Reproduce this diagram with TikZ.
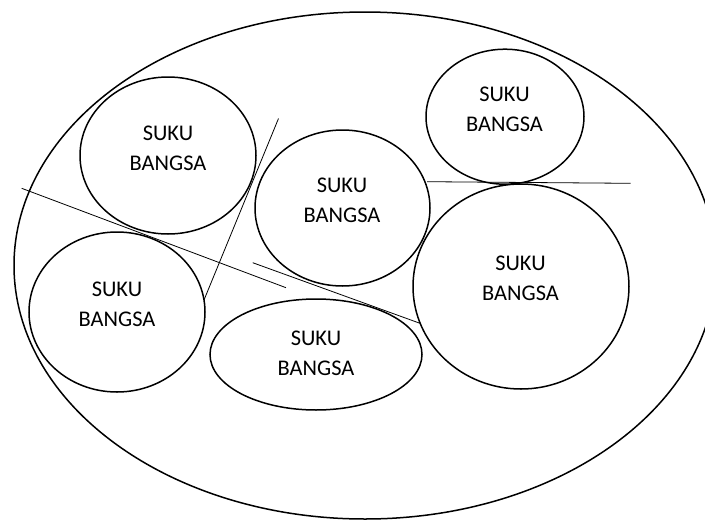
\documentclass[tikz,border=0pt]{standalone}
\usepackage{fontspec}
\setmainfont{Carlito}
\usetikzlibrary{shapes.geometric,positioning}
\tikzset{
  suku/.style={ellipse, draw=black, line width=1.5pt, inner sep=0pt},
  garis/.style={draw=black, line width=0.8pt},
  teks/.style={align=center, font=\fontsize{22.4}{30}\selectfont}
}

\begin{document}
\begin{tikzpicture}[x=1pt,y=-1pt]
  \useasboundingbox (0,0) rectangle (705,520);
  \clip (0,0) rectangle (705,520);
  % the whole nation
  \node[suku, minimum width=702pt, minimum height=507pt] (bangsa) at (365,265.5) {};
  % the single groups
  \node[suku, minimum width=176pt, minimum height=157pt] (sbA) at (168,155.5) {};
  \node[suku, minimum width=158pt, minimum height=135pt] (sbB) at (505,116.7) {};
  \node[suku, minimum width=175pt, minimum height=156pt] (sbC) at (342.5,208) {};
  \node[suku, minimum width=216pt, minimum height=205pt] (sbD) at (521,286.5) {};
  \node[suku, minimum width=176pt, minimum height=160pt] (sbE) at (117,312) {};
  \node[suku, minimum width=212pt, minimum height=111pt] (sbF) at (316,354.5) {};
  \node[teks] (tA) at (168,148) {SUKU\\BANGSA};
  \node[teks] (tB) at (504.5,109) {SUKU\\BANGSA};
  \node[teks] (tC) at (342,200) {SUKU\\BANGSA};
  \node[teks] (tD) at (520.5,278) {SUKU\\BANGSA};
  \node[teks] (tE) at (117,304.5) {SUKU\\BANGSA};
  \node[teks] (tF) at (316,353.5) {SUKU\\BANGSA};
  % dividing lines
  \coordinate (a1) at (278.5,118.5);
  \coordinate (a2) at (204,300);
  \coordinate (b1) at (21.7,188.3);
  \coordinate (b2) at (286,287.7);
  \coordinate (c1) at (252.7,262.7);
  \coordinate (c2) at (420,323.3);
  \coordinate (d1) at (427,181.7);
  \coordinate (d2) at (630.7,183.3);
  \draw[garis] (a1) -- (a2);
  \draw[garis] (b1) -- (b2);
  \draw[garis] (c1) -- (c2);
  \draw[garis] (d1) -- (d2);
\end{tikzpicture}
\end{document}
